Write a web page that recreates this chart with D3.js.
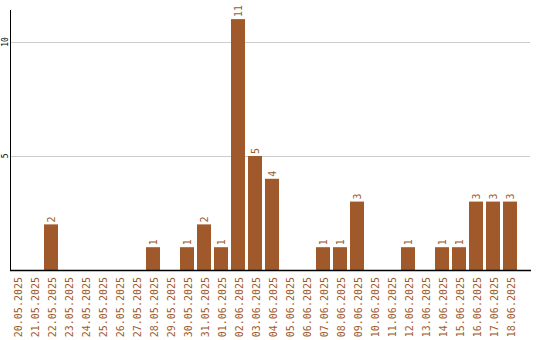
<!DOCTYPE html>
<html>
<head>
<meta charset="utf-8">
<script src="https://cdn.jsdelivr.net/npm/d3@7"></script>
<style>
  body { margin: 0; background: #fff; }
  svg { display: block; }
</style>
</head>
<body>
<div id="chart"></div>
<script>
// data
var dates = ['20.05.2025', '21.05.2025', '22.05.2025', '23.05.2025', '24.05.2025',
  '25.05.2025', '26.05.2025', '27.05.2025', '28.05.2025', '29.05.2025',
  '30.05.2025', '31.05.2025', '01.06.2025', '02.06.2025', '03.06.2025',
  '04.06.2025', '05.06.2025', '06.06.2025', '07.06.2025', '08.06.2025',
  '09.06.2025', '10.06.2025', '11.06.2025', '12.06.2025', '13.06.2025',
  '14.06.2025', '15.06.2025', '16.06.2025', '17.06.2025', '18.06.2025'];
var counts = [0, 0, 2, 0, 0, 0, 0, 0, 1, 0, 1, 2, 1, 11, 5, 4, 0, 0, 1, 1, 3, 0, 0, 1, 0, 1, 1, 3, 3, 3];
var yTicks = [5, 10];

var width = 540, height = 340;
var mLeft = 10, mRight = 530, mTop = 10, mBottom = 270;
var color = '#a0592a';
var mono = '"DejaVu Sans Mono", monospace';

var svg = d3.select('#chart')
  .append('svg')
  .attr('width', width)
  .attr('height', height);

var x = d3.scaleBand()
  .domain(dates)
  .range([mLeft, mLeft + dates.length * 17]);

var y = d3.scaleLinear()
  .domain([0, 11.4])
  .range([mBottom, mTop]);

// grid lines
svg.append('g')
  .selectAll('line')
  .data(yTicks)
  .enter()
  .append('line')
  .attr('x1', mLeft)
  .attr('x2', mRight)
  .attr('y1', (d) => Math.round(y(d)) + 0.5)
  .attr('y2', (d) => Math.round(y(d)) + 0.5)
  .attr('stroke', '#cccccc')
  .attr('stroke-width', 1);

// y tick labels
svg.append('g')
  .selectAll('text')
  .data(yTicks)
  .enter()
  .append('text')
  .attr('transform', (d) => 'translate(8,' + y(d) + ') rotate(-90)')
  .attr('text-anchor', 'middle')
  .style('font-family', mono)
  .style('font-size', '8px')
  .attr('fill', '#000')
  .text((d) => d);

// bars
var bw = x.bandwidth() - 3;
var rows = dates.map((d, i) => ({ date: d, value: counts[i] })).filter((d) => d.value > 0);

var bars = svg.append('g')
  .selectAll('g')
  .data(rows)
  .enter()
  .append('g');

bars.append('rect')
  .attr('x', (d) => x(d.date))
  .attr('y', (d) => y(d.value))
  .attr('width', bw)
  .attr('height', (d) => mBottom - y(d.value))
  .attr('fill', color);

bars.append('text')
  .attr('transform', (d) => 'translate(' + (x(d.date) + bw / 2 + 3.5) + ',' + (y(d.value) - 2) + ') rotate(-90)')
  .attr('text-anchor', 'start')
  .style('font-family', mono)
  .style('font-size', '10px')
  .attr('fill', color)
  .text((d) => d.value);

// x labels
svg.append('g')
  .selectAll('text')
  .data(dates)
  .enter()
  .append('text')
  .attr('transform', (d) => 'translate(' + (x(d) + x.bandwidth() / 2 + 3.5) + ',' + (mBottom + 7) + ') rotate(-90)')
  .attr('text-anchor', 'end')
  .style('font-family', mono)
  .style('font-size', '10px')
  .attr('fill', color)
  .text((d) => d);

// axis lines
svg.append('line')
  .attr('x1', mLeft + 0.5).attr('x2', mLeft + 0.5)
  .attr('y1', mTop).attr('y2', mBottom + 1)
  .attr('stroke', '#000');

svg.append('line')
  .attr('x1', mLeft).attr('x2', mRight + 1)
  .attr('y1', mBottom + 0.5).attr('y2', mBottom + 0.5)
  .attr('stroke', '#000')
  .attr('stroke-width', 1.5);
</script>
</body>
</html>
